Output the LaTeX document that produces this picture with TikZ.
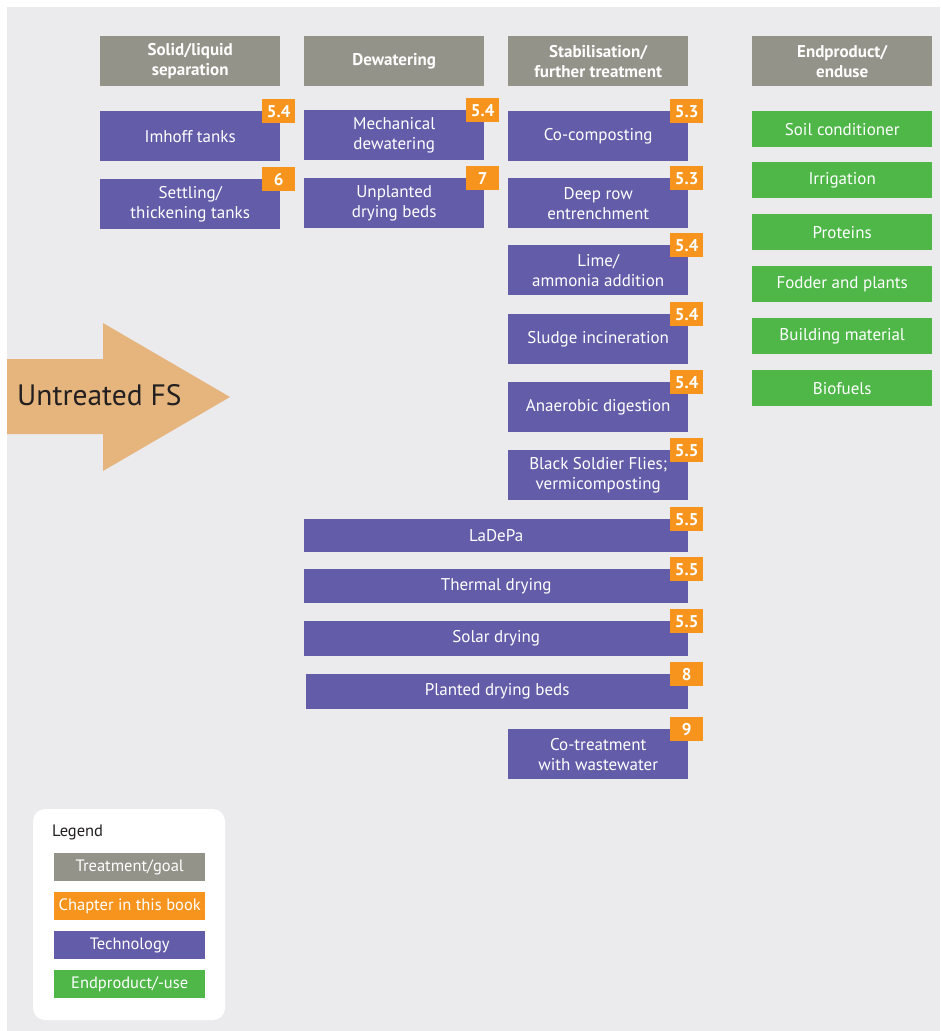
\documentclass[tikz,border=0pt]{standalone}
\usepackage{fontspec}
\setmainfont{PT Sans}
\definecolor{bg}{HTML}{EBEBEE}
\definecolor{hdrgray}{HTML}{94938A}
\definecolor{techp}{HTML}{635DA9}
\definecolor{badgeo}{HTML}{F7941E}
\definecolor{endg}{HTML}{4EB748}
\definecolor{arrowc}{HTML}{E5B57D}
\definecolor{darktxt}{HTML}{231F20}
\tikzset{
  box/.style={anchor=north west, inner sep=0pt, align=center, text=white,
    minimum width=180pt, minimum height=50pt, font=\fontsize{17}{20}\selectfont},
  hdr/.style={box, fill=hdrgray, font=\fontsize{17}{20}\selectfont\bfseries},
  tech/.style={box, fill=techp},
  endp/.style={box, fill=endg, minimum height=36pt},
  badge/.style={anchor=north east, inner sep=0pt, fill=badgeo, text=white,
    minimum width=33pt, minimum height=24pt, font=\fontsize{17}{20}\selectfont\bfseries},
  leg/.style={anchor=north west, inner sep=0pt, text=white, minimum width=151pt,
    minimum height=28pt, font=\fontsize{16.5}{19}\selectfont},
}
\newcommand{\badgeon}[2]{\node[badge] (#1b) at ([shift={(15pt,12pt)}]#1.north east) {#2};}
\begin{document}
\begin{tikzpicture}[x=1pt,y=-1pt]
\useasboundingbox (0,0) rectangle (940,1031);
\fill[bg] (7,7) rectangle (940,1031);
% arrow
\fill[arrowc] (7,359) -- (103,359) -- (103,323) -- (230,397) -- (103,471) -- (103,434) -- (7,434) -- cycle;
\node[anchor=west, inner sep=0pt, text=darktxt, font=\fontsize{29.5}{32}\selectfont] (fs) at (17,395) {Untreated FS};
% headers
\node[hdr] (h1) at (100,36) {Solid/liquid\\separation};
\node[hdr] (h2) at (304,36) {Dewatering};
\node[hdr] (h3) at (508,36) {Stabilisation/\\further treatment};
\node[hdr] (h4) at (752,36) {Endproduct/\\enduse};
% column 1
\node[tech] (imhoff) at (100,111) {Imhoff tanks};
\node[tech] (settling) at (100,179) {Settling/\\thickening tanks};
% column 2
\node[tech] (mech) at (304,110) {Mechanical\\dewatering};
\node[tech] (unpl) at (304,178) {Unplanted\\drying beds};
% column 3
\node[tech] (cocomp) at (508,111) {Co-composting};
\node[tech] (deep) at (508,178) {Deep row\\entrenchment};
\node[tech] (lime) at (508,245) {Lime/\\ammonia addition};
\node[tech] (incin) at (508,314) {Sludge incineration};
\node[tech] (anaer) at (508,382) {Anaerobic digestion};
\node[tech] (bsf) at (508,450) {Black Soldier Flies;\\vermicomposting};
% wide rows
\node[tech, minimum width=384pt, minimum height=33pt] (ladepa) at (304,519) {LaDePa};
\node[tech, minimum width=384pt, minimum height=34pt] (thermal) at (304,569) {Thermal drying};
\node[tech, minimum width=384pt, minimum height=35pt] (solar) at (304,621) {Solar drying};
\node[tech, minimum width=382pt, minimum height=35pt] (planted) at (306,674) {Planted drying beds};
\node[tech] (cotreat) at (508,729) {Co-treatment\\with wastewater};
% badges
\badgeon{imhoff}{5.4}
\badgeon{settling}{6}
\badgeon{mech}{5.4}
\badgeon{unpl}{7}
\badgeon{cocomp}{5.3}
\badgeon{deep}{5.3}
\badgeon{lime}{5.4}
\badgeon{incin}{5.4}
\badgeon{anaer}{5.4}
\badgeon{bsf}{5.5}
\badgeon{ladepa}{5.5}
\badgeon{thermal}{5.5}
\badgeon{solar}{5.5}
\badgeon{planted}{8}
\badgeon{cotreat}{9}
% endproducts
\node[endp] (soil) at (752,111) {Soil conditioner};
\node[endp] (irr) at (752,162) {Irrigation};
\node[endp] (prot) at (752,214) {Proteins};
\node[endp] (fodder) at (752,266) {Fodder and plants};
\node[endp] (build) at (752,318) {Building material};
\node[endp] (biof) at (752,370) {Biofuels};
% legend
\fill[white, rounded corners=12pt] (33,809) rectangle (225,1020);
\node[anchor=west, inner sep=0pt, text=darktxt, font=\fontsize{16.5}{19}\selectfont] (legt) at (52,832) {Legend};
\node[leg, fill=hdrgray] (l1) at (54,853) {Treatment/goal};
\node[leg, fill=badgeo] (l2) at (54,892) {Chapter in this book};
\node[leg, fill=techp] (l3) at (54,931) {Technology};
\node[leg, fill=endg] (l4) at (54,970) {Endproduct/-use};
\end{tikzpicture}
\end{document}
